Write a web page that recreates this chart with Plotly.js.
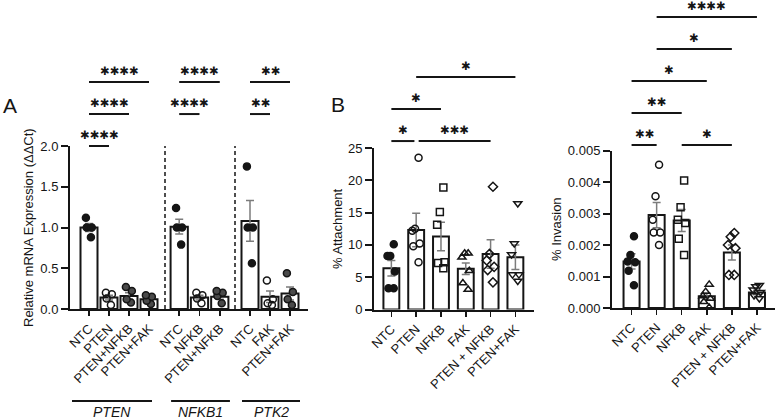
<!DOCTYPE html>
<html>
<head>
<meta charset="utf-8">
<script src="https://cdn.plot.ly/plotly-3.0.1.min.js"></script>
<style>html,body{margin:0;padding:0;background:#fff}#chart{width:777px;height:420px}</style>
</head>
<body>
<div id="chart"></div>
<script>
// ---- Panel A: relative mRNA expression (ΔΔCt), three target genes ----
const catsPTEN  = ['NTC', 'PTEN', 'PTEN+NFKB', 'PTEN+FAK'];
const barsPTEN  = [1.00, 0.14, 0.16, 0.12];
const semPTEN   = [0.05, 0.03, 0.04, 0.02];
const ptsPTEN   = [[1.12, 1.00, 1.00, 0.88], [0.20, 0.18, 0.13, 0.05], [0.27, 0.22, 0.12, 0.08], [0.17, 0.15, 0.10, 0.06]];

const catsNFKB1 = ['NTC', 'NFKB', 'PTEN+NFKB'];
const barsNFKB1 = [1.01, 0.14, 0.15];
const semNFKB1  = [0.09, 0.03, 0.03];
const ptsNFKB1  = [[1.24, 1.00, 1.00, 0.79], [0.20, 0.17, 0.13, 0.07], [0.22, 0.20, 0.16, 0.07]];

const catsPTK2  = ['NTC', 'FAK', 'PTEN+FAK'];
const barsPTK2  = [1.08, 0.15, 0.19];
const semPTK2   = [0.25, 0.07, 0.08];
const ptsPTK2   = [[1.75, 1.00, 1.00, 0.56], [0.35, 0.12, 0.07, 0.05], [0.44, 0.21, 0.12, 0.05]];

const geneLabels = ['PTEN', 'NFKB1', 'PTK2'];

// ---- Panel B: % attachment, and panel C: % invasion ----
const catsB = ['NTC', 'PTEN', 'NFKB', 'FAK', 'PTEN + NFKB', 'PTEN+FAK'];
const barsAttach = [6.4, 12.3, 11.3, 6.3, 8.6, 8.1];
const semAttach  = [1.2, 2.6, 2.2, 0.9, 2.2, 1.9];
const ptsAttach  = [
  [10.1, 8.3, 8.3, 5.9, 3.3, 3.3],
  [23.5, 12.5, 12.2, 10.2, 9.8, 7.3],
  [18.9, 15.1, 13.1, 7.3, 7.2, 6.4],
  [8.7, 8.7, 8.1, 6.0, 4.1, 3.1],
  [19.0, 8.6, 7.6, 6.6, 6.1, 4.2],
  [16.4, 10.2, 8.5, 5.4, 5.4, 4.4]
];

const barsInvade = [0.00148, 0.00295, 0.00278, 0.00037, 0.00176, 0.00049];
const semInvade  = [0.00024, 0.00040, 0.00035, 0.00010, 0.00024, 0.00007];
const ptsInvade  = [
  [0.00228, 0.00168, 0.00148, 0.00145, 0.00118, 0.00072],
  [0.00455, 0.00355, 0.00280, 0.00240, 0.00240, 0.00200],
  [0.00405, 0.00320, 0.00280, 0.00270, 0.00220, 0.00168],
  [0.00075, 0.00052, 0.00038, 0.00030, 0.00020, 0.00002],
  [0.00238, 0.00226, 0.00200, 0.00190, 0.00105, 0.00105],
  [0.00072, 0.00068, 0.00058, 0.00050, 0.00040, 0.00030]
];

// significance brackets: [from index, to index, stars, height (fraction of y domain)]
const sigPTEN  = [[0, 1, '✱✱✱✱', 1.0], [0, 2, '✱✱✱✱', 1.196], [0, 3, '✱✱✱✱', 1.393]];
const sigNFKB1 = [[0, 1, '✱✱✱✱', 1.196], [0, 2, '✱✱✱✱', 1.393]];
const sigPTK2  = [[0, 1, '✱✱', 1.196], [0, 2, '✱✱', 1.393]];
const sigAttach = [[0, 0.93, '✱', 1.043], [1.1, 4, '✱✱✱', 1.043], [0, 2, '✱', 1.241], [1, 5, '✱', 1.44]];
const sigInvade = [[0, 1, '✱✱', 1.035], [2, 4, '✱', 1.035], [0, 2, '✱✱', 1.238], [0, 3, '✱', 1.441], [1, 4, '✱', 1.644], [1, 5, '✱✱✱✱', 1.848]];

const INK = '#151515';
const FONT = 'Liberation Sans, Arial, sans-serif';

// marker styles per group
const styleA = {
  'NTC':       {symbol: 'circle', color: INK},
  'PTEN':      {symbol: 'circle-open', color: INK},
  'NFKB':      {symbol: 'circle-open', color: INK},
  'FAK':       {symbol: 'circle-open', color: INK},
  'PTEN+NFKB': {symbol: 'circle', color: '#4a4a4a'},
  'PTEN+FAK':  {symbol: 'circle', color: '#4a4a4a'}
};
const symbolsB = ['circle', 'circle-open', 'square-open', 'triangle-up-open', 'diamond-open', 'triangle-down-open'];

const traces = [];

function barTrace(cats, vals, sem, xa, ya, w) {
  return {
    type: 'bar', x: cats, y: vals, xaxis: xa, yaxis: ya, width: w,
    marker: {color: '#ffffff', line: {color: INK, width: 2}},
    error_y: {type: 'data', array: sem, visible: true, color: '#7c7c7c', thickness: 1.5, width: 4},
    hoverinfo: 'x+y', showlegend: false
  };
}
function dotTrace(cat, vals, xa, ya, sym, col, size) {
  return {
    type: 'box', x: vals.map(() => cat), y: vals, xaxis: xa, yaxis: ya,
    boxpoints: 'all', jitter: 0.75, pointpos: 0,
    fillcolor: 'rgba(0,0,0,0)', line: {width: 0, color: 'rgba(0,0,0,0)'},
    marker: {symbol: sym, color: col, size: size, line: {color: INK, width: 1.5}},
    hoverinfo: 'y', showlegend: false
  };
}

// panel A
[[catsPTEN, barsPTEN, semPTEN, ptsPTEN, 'x'],
 [catsNFKB1, barsNFKB1, semNFKB1, ptsNFKB1, 'x2'],
 [catsPTK2, barsPTK2, semPTK2, ptsPTK2, 'x3']].forEach(([cats, bars, sem, pts, xa]) => {
  traces.push(barTrace(cats, bars, sem, xa, 'y', 0.85));
  cats.forEach((c, i) => traces.push(dotTrace(c, pts[i], xa, 'y', styleA[c].symbol, styleA[c].color, 7)));
});

// panel B
traces.push(barTrace(catsB, barsAttach, semAttach, 'x4', 'y2', 0.64));
catsB.forEach((c, i) => traces.push(dotTrace(c, ptsAttach[i], 'x4', 'y2', symbolsB[i], INK, 7)));

// panel C
traces.push(barTrace(catsB, barsInvade, semInvade, 'x5', 'y3', 0.64));
catsB.forEach((c, i) => traces.push(dotTrace(c, ptsInvade[i], 'x5', 'y3', symbolsB[i], INK, 7)));

const W = 777, H = 420;
const px = v => v / W;           // horizontal pixel -> paper
const py = v => (H - v) / H;     // vertical pixel -> paper

function xAxis(dom, range, anchor) {
  return {
    domain: dom, range: range, anchor: anchor, type: 'category',
    showline: true, linecolor: INK, linewidth: 2, mirror: false,
    ticks: 'outside', ticklen: 5, tickwidth: 1.5, tickcolor: INK,
    tickangle: -45, tickfont: {family: FONT, size: 13, color: INK},
    showgrid: false, zeroline: false, automargin: false, fixedrange: true
  };
}
function yAxis(dom, range, dtick, fmt, anchor) {
  return {
    domain: dom, range: range, anchor: anchor, dtick: dtick, tick0: 0, tickformat: fmt,
    showline: true, linecolor: INK, linewidth: 2,
    ticks: 'outside', ticklen: 7, tickwidth: 2, tickcolor: INK,
    tickfont: {family: FONT, size: 13, color: INK},
    showgrid: false, zeroline: false, automargin: false, fixedrange: true
  };
}

const shapes = [];
const annotations = [];

function addSig(list, xa, ya) {
  list.forEach(([a, b, stars, h]) => {
    shapes.push({type: 'line', xref: xa, yref: ya + ' domain', x0: a, x1: b, y0: h, y1: h,
                 line: {color: INK, width: 2}});
    annotations.push({xref: xa, yref: ya + ' domain', x: (a + b) / 2, y: h, text: stars,
                      showarrow: false, xanchor: 'center', yanchor: 'bottom', yshift: 2,
                      font: {family: 'DejaVu Sans, sans-serif', size: 11.5, color: INK}});
  });
}
addSig(sigPTEN, 'x', 'y');
addSig(sigNFKB1, 'x2', 'y');
addSig(sigPTK2, 'x3', 'y');
addSig(sigAttach, 'x4', 'y2');
addSig(sigInvade, 'x5', 'y3');

// dashed separators between the gene groups
['x2', 'x3'].forEach(xa => shapes.push({
  type: 'line', xref: xa + ' domain', yref: 'y domain', x0: 0, x1: 0, y0: 0, y1: 1,
  line: {color: INK, width: 1.5, dash: '4px,3px'}
}));

// gene group lines and italic labels under panel A
[['x', -0.85, 3.15], ['x2', -0.4, 2.5], ['x3', -0.4, 2.5]].forEach(([xa, a, b], i) => {
  shapes.push({type: 'line', xref: xa, yref: 'paper', x0: a, x1: b, y0: py(401), y1: py(401),
               line: {color: INK, width: 2}});
  annotations.push({xref: xa, yref: 'paper', x: (a + b) / 2, y: py(412), text: '<i>' + geneLabels[i] + '</i>',
                    showarrow: false, xanchor: 'center', yanchor: 'middle',
                    font: {family: FONT, size: 14, color: INK}});
});

// axis titles and panel letters
const titleFont = {family: FONT, size: 13, color: INK};
const centred = {showarrow: false, xanchor: 'center', yanchor: 'middle', xref: 'paper', yref: 'paper'};
annotations.push(
  Object.assign({x: px(28), y: py(228), text: 'Relative mRNA Expression (ΔΔCt)', textangle: -90, font: titleFont}, centred),
  Object.assign({x: px(337), y: py(229), text: '% Attachment', textangle: -90, font: titleFont}, centred),
  Object.assign({x: px(556), y: py(229), text: '% Invasion', textangle: -90, font: titleFont}, centred),
  Object.assign({x: px(10), y: py(105), text: 'A', font: {family: FONT, size: 21, color: INK}}, centred),
  Object.assign({x: px(338), y: py(104), text: 'B', font: {family: FONT, size: 21, color: INK}}, centred)
);

const layout = {
  width: W, height: H, margin: {l: 0, r: 0, t: 0, b: 0},
  paper_bgcolor: '#ffffff', plot_bgcolor: '#ffffff',
  showlegend: false, boxmode: 'overlay',
  font: {family: FONT, size: 13, color: INK},
  xaxis:  xAxis([px(70), px(165)], [-0.95, 3.8], 'y'),
  xaxis2: xAxis([px(165), px(235)], [-0.7, 2.75], 'y'),
  xaxis3: xAxis([px(235), px(308)], [-0.75, 2.9], 'y'),
  xaxis4: xAxis([px(374), px(534)], [-0.7, 5.75], 'y2'),
  xaxis5: xAxis([px(612), px(775)], [-0.78, 5.72], 'y3'),
  yaxis:  yAxis([py(309), py(146)], [0, 2], 0.5, '.1f', 'x'),
  yaxis2: yAxis([py(309.5), py(148)], [0, 25], 5, 'd', 'x4'),
  yaxis3: yAxis([py(308), py(150.5)], [0, 0.005], 0.001, '.3f', 'x5'),
  shapes: shapes,
  annotations: annotations
};

Plotly.newPlot('chart', traces, layout, {displayModeBar: false, staticPlot: true});
</script>
</body>
</html>
